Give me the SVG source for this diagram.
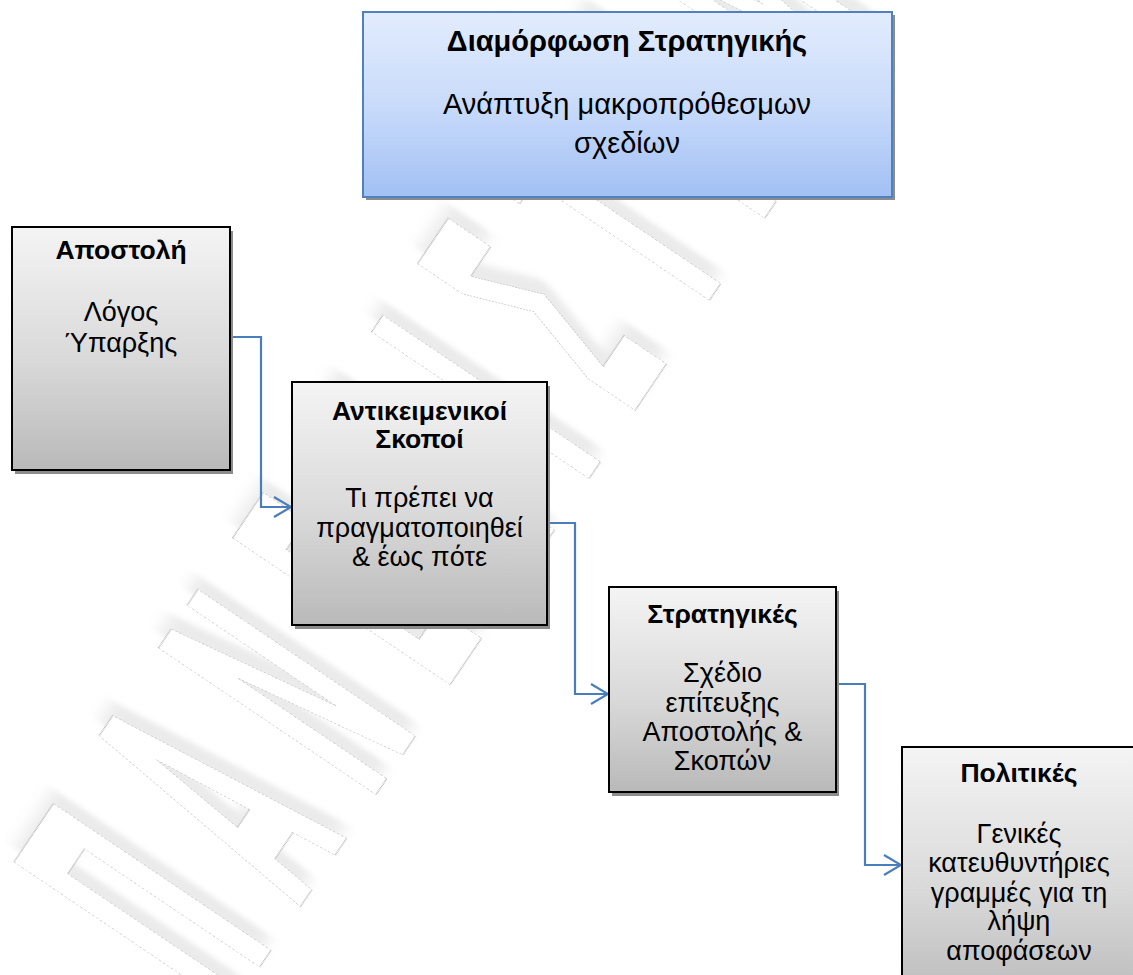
<svg xmlns="http://www.w3.org/2000/svg" width="1133" height="975" viewBox="0 0 1133 975">
  <style>
    .title { font-family: "Liberation Sans", Arial, sans-serif; font-weight: bold; font-size: 26.5px; fill: #000; text-anchor: middle; }
    .body { font-family: "Liberation Sans", Arial, sans-serif; font-size: 27px; fill: #000; text-anchor: middle; }
    .box { fill: url(#grayFill); stroke: #000; stroke-width: 2; }
    .shadow { fill: #8c8c8c; }
    .link { fill: none; stroke: #4a7ebb; stroke-width: 2.2; }
    .wm { font-family: "DejaVu Sans", sans-serif; font-weight: bold; font-size: 360px; }
  </style>
  <defs>
    <linearGradient id="grayFill" x1="0" y1="0" x2="0" y2="1">
      <stop offset="0" stop-color="#f4f4f4"/>
      <stop offset="0.55" stop-color="#d9d9d9"/>
      <stop offset="1" stop-color="#b9b9b9"/>
    </linearGradient>
    <linearGradient id="blueFill" x1="0" y1="0" x2="0" y2="1">
      <stop offset="0" stop-color="#e2ecfd"/>
      <stop offset="0.5" stop-color="#c9dbfa"/>
      <stop offset="1" stop-color="#a2c0f4"/>
    </linearGradient>
    <filter id="haze" x="-20%" y="-20%" width="140%" height="140%">
      <feGaussianBlur stdDeviation="8"/>
    </filter>
    <marker id="arrow" viewBox="0 0 20 22" refX="18" refY="11" markerWidth="20" markerHeight="22" markerUnits="userSpaceOnUse" orient="auto">
      <path d="M1,1 L18,11 L1,21" fill="none" stroke="#4a7ebb" stroke-width="2.2"/>
    </marker>
  </defs>

  <rect width="1133" height="975" fill="#ffffff"/>

  <!-- diagonal outlined watermark: soft haze under a dotted outline -->
  <g id="watermark" transform="translate(226,1017) rotate(-56) scale(0.3,1)">
    <text class="wm" x="40" y="-8" textLength="4700" lengthAdjust="spacing" fill="#ebebeb" filter="url(#haze)">ΠΑΝΕΠΙΣΤΗΜΙΟ</text>
    <text class="wm" x="0" y="0" textLength="4700" lengthAdjust="spacing" fill="#ffffff" stroke="#bcbcbc" stroke-width="1.2" stroke-dasharray="2 1.5" vector-effect="non-scaling-stroke">ΠΑΝΕΠΙΣΤΗΜΙΟ</text>
  </g>

  <!-- connectors -->
  <g id="connectors">
    <path class="link" d="M230,337 H261 V507 H291" marker-end="url(#arrow)"/>
    <path class="link" d="M547,523 H575 V694 H608" marker-end="url(#arrow)"/>
    <path class="link" d="M836,684 H865 V865 H901" marker-end="url(#arrow)"/>
  </g>

  <g id="node-strategy-formulation">
    <rect class="shadow" x="366" y="15" width="529" height="185"/>
    <rect x="363" y="12" width="529" height="185" fill="url(#blueFill)" stroke="#4f81bd" stroke-width="2"/>
    <text class="title" x="627" y="51" style="font-size:29px">Διαμόρφωση Στρατηγικής</text>
    <text class="body" x="627" y="114" style="font-size:29px">Ανάπτυξη μακροπρόθεσμων</text>
    <text class="body" x="627" y="153" style="font-size:29px">σχεδίων</text>
  </g>

  <g id="node-mission">
    <rect class="shadow" x="15" y="231" width="218" height="243"/>
    <rect class="box" x="12" y="227" width="218" height="243"/>
    <text class="title" x="121" y="259">Αποστολή</text>
    <text class="body" x="121" y="321">Λόγος</text>
    <text class="body" x="121" y="352">Ύπαρξης</text>
  </g>

  <g id="node-objectives">
    <rect class="shadow" x="295" y="386" width="255" height="243"/>
    <rect class="box" x="292" y="382" width="255" height="243"/>
    <text class="title" x="419.5" y="420">Αντικειμενικοί</text>
    <text class="title" x="419.5" y="448">Σκοποί</text>
    <text class="body" x="419.5" y="507">Τι πρέπει να</text>
    <text class="body" x="419.5" y="537">πραγματοποιηθεί</text>
    <text class="body" x="419.5" y="566">&amp; έως πότε</text>
  </g>

  <g id="node-strategies">
    <rect class="shadow" x="612" y="591" width="227" height="205"/>
    <rect class="box" x="609" y="587" width="227" height="205"/>
    <text class="title" x="722.5" y="623">Στρατηγικές</text>
    <text class="body" x="722.5" y="682">Σχέδιο</text>
    <text class="body" x="722.5" y="712">επίτευξης</text>
    <text class="body" x="722.5" y="741">Αποστολής &amp;</text>
    <text class="body" x="722.5" y="770">Σκοπών</text>
  </g>

  <g id="node-policies">
    <rect class="shadow" x="905" y="751" width="234" height="260"/>
    <rect class="box" x="902" y="747" width="234" height="260"/>
    <text class="title" x="1019" y="782">Πολιτικές</text>
    <text class="body" x="1019" y="843">Γενικές</text>
    <text class="body" x="1019" y="872">κατευθυντήριες</text>
    <text class="body" x="1019" y="902">γραμμές για τη</text>
    <text class="body" x="1019" y="930">λήψη</text>
    <text class="body" x="1019" y="960">αποφάσεων</text>
  </g>
</svg>
